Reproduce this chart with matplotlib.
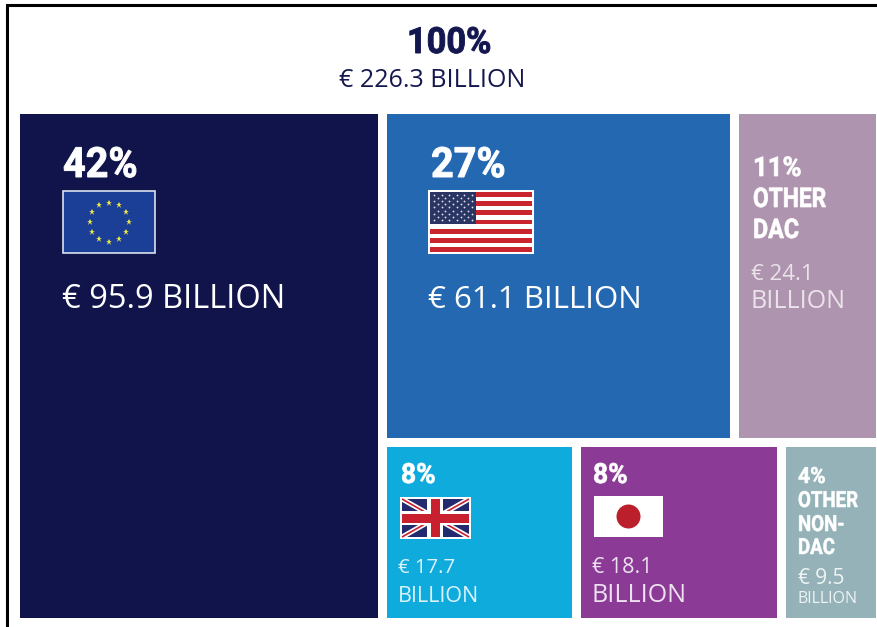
import numpy as np
import matplotlib
matplotlib.use("Agg")
import matplotlib.pyplot as plt
from matplotlib.patches import Rectangle, Circle
from matplotlib.patheffects import AbstractPathEffect
from matplotlib.transforms import Affine2D

# data
total_share = "100%"
total_label = "€ 226.3 BILLION"
shares = ["42%", "27%", "11%", "8%", "8%", "4%"]
names = ["", "", "OTHER\nDAC", "", "", "OTHER\nNON-\nDAC"]
amounts = ["€ 95.9 BILLION", "€ 61.1 BILLION", "€ 24.1\nBILLION", "€ 17.7\nBILLION", "€ 18.1\nBILLION", "€ 9.5\nBILLION"]
# tile areas as drawn in the picture (billions), not quite the printed amounts
tile_values = [95.9, 59.8, 24.8, 17.9, 18.8, 9.1]
colors = ["#10144a", "#2468b2", "#ae94ae", "#0fabdd", "#8b3b96", "#94b2b8"]

NAVY = "#14174f"
HEAD = ["Roboto", "DejaVu Sans"]
BODY = ["Open Sans", "Noto Sans", "DejaVu Sans"]


class Condensed(AbstractPathEffect):
    # no condensed heavy font here, so squeeze the glyphs and thicken them a bit
    def __init__(self, sx, stroke):
        super().__init__()
        self.sx = sx
        self.stroke = stroke

    def draw_path(self, renderer, gc, tpath, affine, rgbFace=None):
        gc0 = renderer.new_gc()
        gc0.copy_properties(gc)
        gc0.set_linewidth(self.stroke)
        gc0.set_foreground(rgbFace)
        gc0.set_joinstyle("miter")
        renderer.draw_path(gc0, tpath, Affine2D().scale(self.sx, 1) + affine, rgbFace)
        gc0.restore()


fig = plt.figure(figsize=(8.78, 6.27), dpi=100)
ax = fig.add_axes([0, 0, 1, 1])
ax.set_xlim(0, 878)
ax.set_ylim(627, 0)
ax.axis("off")

# frame only on top and left
ax.plot([7.5, 7.5, 878], [627, 4.5, 4.5], color="black", lw=2.2, solid_joinstyle="miter")


def layout(vals, x0=20, x1=885, y0=114, y1=627):
    # left column, then a row of two and a row of three
    w = x1 - x0
    h = y1 - y0
    total = sum(vals)
    xm = x0 + w * vals[0] / total
    rest = total - vals[0]
    ym = y0 + h * (vals[1] + vals[2]) / rest
    boxes = [(x0, y0, xm, y1)]
    x = xm
    for v in vals[1:3]:
        nx = x + (x1 - xm) * v / (vals[1] + vals[2])
        boxes.append((x, y0, nx, ym))
        x = nx
    x = xm
    for v in vals[3:]:
        nx = x + (x1 - xm) * v / sum(vals[3:])
        boxes.append((x, ym, nx, y1))
        x = nx
    return boxes


boxes = layout(tile_values)
gap = 9
for b, c in zip(boxes, colors):
    ax.bar(b[0], b[3] - b[1] - gap, width=b[2] - b[0] - gap, bottom=b[1], align="edge", color=c, lw=0)


def head(x, y, s, size, color="white", sx=0.95, stroke=0.7):
    ax.text(x, y, s, fontsize=size, color=color, family=HEAD, weight="bold", ha="left", va="baseline",
            path_effects=[Condensed(sx, stroke)])


def body(x, y, s, size, color="white", alpha=1.0):
    ax.text(x, y, s, fontsize=size, color=color, family=BODY, alpha=alpha, ha="left", va="baseline")


def flag_eu(x0, y0, x1, y1):
    ax.add_patch(Rectangle((x0, y0), x1 - x0, y1 - y0, fc="#1b3f97", ec="#d9e2ee", lw=1.2))
    cx, cy = (x0 + x1) / 2, (y0 + y1) / 2
    ang = np.arange(12) * np.pi / 6
    ax.plot(cx + 19.5 * np.cos(ang), cy + 19.5 * np.sin(ang), ls="", marker="*", ms=4.8, color="#f2ea45", mew=0)


def flag_us(x0, y0, x1, y1):
    ax.add_patch(Rectangle((x0, y0), x1 - x0, y1 - y0, fc="white", ec="none"))
    m = 2
    sh = (y1 - y0 - 2 * m) / 13
    for i in range(0, 13, 2):
        ax.add_patch(Rectangle((x0 + m, y0 + m + i * sh), x1 - x0 - 2 * m, sh, fc="#c9252f", ec="none"))
    cw, ch = 46, 7 * sh
    ax.add_patch(Rectangle((x0 + m, y0 + m), cw, ch, fc="#2a3563", ec="none", zorder=1.5))
    sx, sy = [], []
    for r in range(9):
        n = 6 if r % 2 == 0 else 5
        for k in range(n):
            sx.append(x0 + m + 4 + k * 7.6 + (0 if r % 2 == 0 else 3.8))
            sy.append(y0 + m + 3 + r * 3.1)
    ax.plot(sx, sy, ls="", marker="o", ms=1.3, color="#dfe3ee", mew=0)


def flag_uk(x0, y0, x1, y1):
    ax.add_patch(Rectangle((x0, y0), x1 - x0, y1 - y0, fc="white", ec="none"))
    a, b, c, d = x0 + 2, y0 + 2, x1 - 2, y1 - 2
    ax.add_patch(Rectangle((a, b), c - a, d - b, fc="#232a6e", ec="none"))
    clip = Rectangle((a, b), c - a, d - b, transform=ax.transData)
    for p, q in [((a, b), (c, d)), ((a, d), (c, b))]:
        ax.plot(*zip(p, q), color="white", lw=3.6, clip_path=clip, solid_capstyle="butt")
        ax.plot(*zip(p, q), color="#c8202f", lw=1.2, clip_path=clip, solid_capstyle="butt")
    mx, my = (a + c) / 2, (b + d) / 2
    ax.add_patch(Rectangle((mx - 8, b), 16, d - b, fc="white", ec="none", zorder=3))
    ax.add_patch(Rectangle((a, my - 7), c - a, 14, fc="white", ec="none", zorder=3))
    ax.add_patch(Rectangle((mx - 4.5, b), 9, d - b, fc="#c8202f", ec="none", zorder=3.1))
    ax.add_patch(Rectangle((a, my - 4.5), c - a, 9, fc="#c8202f", ec="none", zorder=3.1))


def flag_jp(x0, y0, x1, y1):
    ax.add_patch(Rectangle((x0, y0), x1 - x0, y1 - y0, fc="white", ec="none"))
    ax.add_patch(Circle(((x0 + x1) / 2, (y0 + y1) / 2), 12, fc="#bb1f2b", ec="none"))


# header
head(407, 53, total_share, 26, color=NAVY)
ax.text(432.5, 87, total_label, fontsize=18, color=NAVY, family=BODY, ha="center", va="baseline")

# big tiles
head(63, 177, shares[0], 30)
flag_eu(63.5, 191, 155, 253)
body(62, 308, amounts[0], 23.5)

head(431, 177, shares[1], 30)
flag_us(428, 190, 534, 254)
body(428, 308, amounts[1], 22.5)

# other DAC
head(753, 176, shares[2], 19.5, stroke=0.5)
head(753, 207, names[2].split("\n")[0], 19.5, sx=0.84, stroke=0.5)
head(753, 238, names[2].split("\n")[1], 19.5, sx=0.86, stroke=0.5)
a, b = amounts[2].split("\n")
body(751, 280, a, 16, alpha=0.75)
body(751, 308, b, 18, alpha=0.75)

# UK
head(401, 483, shares[3], 20, stroke=0.5)
flag_uk(400, 497, 471, 539)
a, b = amounts[3].split("\n")
body(398, 573, a, 14.7, alpha=0.85)
body(398, 602, b, 15.5, alpha=0.85)

# Japan
head(593, 483, shares[4], 20, stroke=0.5)
flag_jp(594, 496, 663, 537)
a, b = amounts[4].split("\n")
body(592, 573, a, 15.5, alpha=0.85)
body(592, 602, b, 18, alpha=0.85)

# other non-DAC
head(798, 483, shares[5], 16, stroke=0.4)
for yy, s in zip([507, 531, 554], names[5].split("\n")):
    head(798, yy, s, 16, sx=0.84, stroke=0.4)
a, b = amounts[5].split("\n")
body(798, 584, a, 15, alpha=0.85)
body(798, 603, b, 11.5, alpha=0.85)

fig.savefig("out.png", dpi=100)
